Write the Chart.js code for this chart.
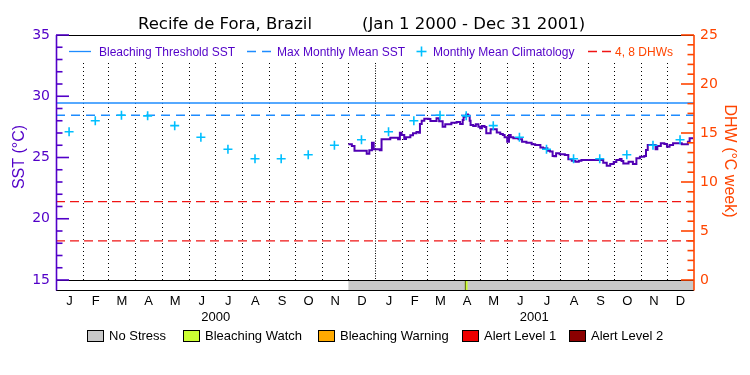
<!DOCTYPE html>
<html><head><meta charset="utf-8">
<script src="https://cdn.jsdelivr.net/npm/chart.js@4/dist/chart.umd.min.js"></script>
<style>html,body{margin:0;padding:0;background:#fff}#wrap{width:750px;height:375px;position:relative}</style>
</head><body><div id="wrap"><canvas id="c" width="750" height="375"></canvas></div>
<script>
const titleLeft = "Recife de Fora, Brazil";
const titleRight = "(Jan 1 2000 - Dec 31 2001)";
const monthLetters = ["J","F","M","A","M","J","J","A","S","O","N","D"];
const years = ["2000", "2001"];
const yearMidDays = [183, 548];
const monthStartDays = [0,31,60,91,121,152,182,213,244,274,305,335,366,397,425,456,486,517,547,578,609,639,670,700,731];
const climDays = [15,45,75,105,136,166,197,228,258,289,319,350,381,410,440,470,501,531,562,593,623,654,684,715];
const climMonthly = [27.1,28.0,28.45,28.4,27.6,26.65,25.67,24.9,24.9,25.23,26.0,26.45];
const bleachingThreshold = 29.45;
const maxMonthlyMean = 28.45;
const dhwLevels = [4, 8];
const sstDays = [335,339,342,350,356,359,362,364,371,373,381,383,390,392,394,396,399,401,406,409,413,416,417,419,422,427,429,433,436,439,443,446,453,459,463,466,467,470,472,474,475,478,481,484,486,488,491,493,496,498,503,505,509,512,514,517,519,521,524,530,534,539,545,549,552,555,558,563,566,569,571,573,577,583,587,591,595,599,602,623,627,631,635,639,642,646,648,650,656,661,665,669,674,676,678,684,687,689,693,697,700,703,707,717,723,724,726,730];
const sstValues = [26.08,25.94,25.56,25.56,25.31,25.6,26.21,25.67,25.6,26.49,26.49,26.62,26.62,26.49,27.03,26.84,26.51,26.65,26.81,26.97,27.08,27.03,27.73,28.0,28.17,28.15,27.98,27.98,28.2,27.95,27.51,27.71,27.84,27.9,27.73,28.06,28.33,28.52,28.41,28.0,27.65,27.57,27.71,27.51,27.38,27.57,27.5,26.97,26.97,27.3,27.3,27.05,26.92,26.84,26.65,26.29,26.84,26.65,26.57,26.49,26.29,26.21,26.08,26.02,26.02,25.82,25.76,25.56,25.48,25.12,25.1,25.34,25.26,25.2,24.85,24.74,24.66,24.74,24.8,24.8,24.57,24.33,24.47,24.63,24.8,24.88,24.71,24.52,24.66,24.47,24.93,25.07,25.12,25.61,26.02,26.02,25.67,25.94,26.16,26.1,25.88,26.02,26.16,26.08,26.08,26.29,26.57,26.57];
const stressNames = ["No Stress","Bleaching Watch","Bleaching Warning","Alert Level 1","Alert Level 2"];
const stressColors = ["#c8c8c8","#ccff33","#ffaa00","#ee0000","#8b0000"];
const stressStart = [335, 469];
const stressEnd = [731, 471.5];
const stressLevel = [0, 1];

const PURPLE = '#5200c8', ORANGE = '#ff4500', BLUE = '#1e8cff', CYAN = '#00bfff', RED = '#f01414', SSTC = '#5000b4';
const LIB = '"Liberation Sans", Arial, sans-serif';
const DJV = '"DejaVu Sans", sans-serif';

const monthMid = [];
for (let i = 0; i < monthStartDays.length - 1; i++) monthMid.push((monthStartDays[i] + monthStartDays[i+1]) / 2);

function hline(ctx, x0, x1, y, col, w, dash) {
  ctx.save(); ctx.strokeStyle = col; ctx.lineWidth = w; ctx.setLineDash(dash || []);
  ctx.beginPath(); ctx.moveTo(x0, y); ctx.lineTo(x1, y); ctx.stroke(); ctx.restore();
}
function vline(ctx, x, y0, y1, col, w, dash) {
  ctx.save(); ctx.strokeStyle = col; ctx.lineWidth = w; ctx.setLineDash(dash || []);
  ctx.beginPath(); ctx.moveTo(x, y0); ctx.lineTo(x, y1); ctx.stroke(); ctx.restore();
}
function text(ctx, s, x, y, font, col, align, rot) {
  ctx.save(); ctx.font = font; ctx.fillStyle = col; ctx.textAlign = align || 'left'; ctx.textBaseline = 'alphabetic';
  ctx.translate(x, y); if (rot) ctx.rotate(rot); ctx.fillText(s, 0, 0); ctx.restore();
}

const decor = {
  id: 'decor',
  beforeDatasetsDraw(chart) {
    const {ctx, chartArea: a, scales: {x}} = chart;
    monthStartDays.forEach(d => {
      if (d <= 0 || d >= 731) return;
      const px = Math.round(x.getPixelForValue(d)) + 0.5;
      vline(ctx, px, a.top + 28, a.bottom, '#000', 1, d === 366 ? [1, 1.5] : [1, 3]);
    });
  },
  afterDatasetsDraw(chart) {
    const {ctx, chartArea: a, scales: {x, y, y2}} = chart;
    const barTop = a.bottom, barBot = a.bottom + 10.5;
    // stress bar
    stressStart.forEach((s, i) => {
      const x0 = x.getPixelForValue(s), x1 = x.getPixelForValue(stressEnd[i]);
      ctx.fillStyle = stressColors[stressLevel[i]];
      ctx.fillRect(x0, barTop, x1 - x0, barBot - barTop);
      if (stressLevel[i] > 0) vline(ctx, x0, barTop, barBot, '#556600', 1);
    });
    hline(ctx, a.left, a.right, a.top + 0.5, '#000', 1);
    hline(ctx, a.left, a.right, barTop + 0.5, '#000', 1.2);
    hline(ctx, a.left, a.right, barBot, '#000', 1.2);
    // axes
    vline(ctx, a.left + 0.5, a.top, barBot, PURPLE, 1.6);
    vline(ctx, a.right, a.top, barBot, ORANGE, 1.6);
    for (let v = 15; v <= 35; v++) {
      const py = y.getPixelForValue(v);
      hline(ctx, a.left, a.left + (v % 5 === 0 ? 13 : 6.5), py, PURPLE, 1.6);
    }
    for (let v = 0; v <= 25; v++) {
      const py = y2.getPixelForValue(v);
      hline(ctx, a.right - (v % 5 === 0 ? 13 : 6.5), a.right, py, ORANGE, 1.6);
    }
    // title
    text(ctx, titleLeft, 138, 28.5, '16.5px ' + DJV, '#000');
    text(ctx, titleRight, 362, 28.5, '16.5px ' + DJV, '#000');
    // axis titles
    text(ctx, 'SST (\u00b0C)', 24, 157, '16px ' + LIB, PURPLE, 'center', -Math.PI / 2);
    text(ctx, 'DHW (\u00b0C week)', 725, 161, '16px ' + LIB, ORANGE, 'center', Math.PI / 2);
    // top legend
    const ly = 51.5, lf = '12px ' + LIB;
    hline(ctx, 69, 91, ly, BLUE, 1.3);
    text(ctx, 'Bleaching Threshold SST', 99, ly + 4.3, lf, PURPLE);
    hline(ctx, 247, 271, ly, BLUE, 1.3, [9, 6]);
    text(ctx, 'Max Monthly Mean SST', 277, ly + 4.3, lf, PURPLE);
    hline(ctx, 416.5, 426.5, ly, CYAN, 1.6); vline(ctx, 421.5, ly - 5, ly + 5, CYAN, 1.6);
    text(ctx, 'Monthly Mean Climatology', 433, ly + 4.3, lf, PURPLE);
    hline(ctx, 588, 611, ly, RED, 1.3, [9, 5]);
    text(ctx, '4, 8 DHWs', 615, ly + 4.3, lf, ORANGE);
    // years
    yearMidDays.forEach((d, i) => text(ctx, years[i], x.getPixelForValue(d), 321, '13px ' + LIB, '#000', 'center'));
    // bottom legend
    const bx = [87, 183, 318, 462, 569];
    stressNames.forEach((n, i) => {
      ctx.fillStyle = stressColors[i]; ctx.fillRect(bx[i], 330, 16, 11);
      ctx.strokeStyle = '#000'; ctx.lineWidth = 1; ctx.strokeRect(bx[i] + 0.5, 330.5, 16, 11);
      text(ctx, n, bx[i] + 22, 340, '13px ' + LIB, '#000');
    });
  }
};

const pts = (xs, ys) => xs.map((d, i) => ({x: d, y: ys[i]}));
const span = v => [{x: 0, y: v}, {x: 731, y: v}];

new Chart(document.getElementById('c'), {
  type: 'line',
  data: {
    datasets: [
      {label: 'Monthly Mean Climatology', data: pts(climDays, climDays.map((d, i) => climMonthly[i % 12])), showLine: false,
       pointStyle: 'cross', pointRadius: 4.5, pointBorderWidth: 1.6, borderColor: CYAN, yAxisID: 'y', order: 0},
      {label: 'SST', data: pts(sstDays, sstValues), stepped: true, borderColor: SSTC, borderWidth: 2, pointRadius: 0, yAxisID: 'y', order: 1},
      {label: 'Bleaching Threshold SST', data: span(bleachingThreshold), borderColor: BLUE, borderWidth: 1.3, pointRadius: 0, yAxisID: 'y', order: 2},
      {label: 'Max Monthly Mean SST', data: span(maxMonthlyMean), borderColor: BLUE, borderWidth: 1.3, borderDash: [9, 6], pointRadius: 0, yAxisID: 'y', order: 3},
      {label: '4 DHW', data: span(dhwLevels[0]), borderColor: RED, borderWidth: 1.3, borderDash: [9, 5], pointRadius: 0, yAxisID: 'y2', order: 4},
      {label: '8 DHW', data: span(dhwLevels[1]), borderColor: RED, borderWidth: 1.3, borderDash: [9, 5], pointRadius: 0, yAxisID: 'y2', order: 5}
    ]
  },
  options: {
    responsive: false, animation: false, events: [],
    layout: {padding: {top: 35, left: 0, right: 0, bottom: 0}},
    plugins: {legend: {display: false}, title: {display: false}, tooltip: {enabled: false}},
    scales: {
      x: {type: 'linear', min: 0, max: 731, grid: {display: false, drawTicks: false}, border: {display: false},
          afterBuildTicks: s => { s.ticks = monthMid.map(v => ({value: v})); },
          afterFit: s => { s.height = 95; },
          ticks: {autoSkip: false, maxRotation: 0, padding: 14, color: '#000', font: {family: 'Liberation Sans', size: 13},
                  callback: (v, i) => monthLetters[i % 12]}},
      y: {position: 'left', min: 15, max: 35, grid: {display: false, drawTicks: false}, border: {display: false},
          afterFit: s => { s.width = 56; },
          ticks: {stepSize: 5, padding: 6, color: PURPLE, font: {family: 'DejaVu Sans', size: 14}}},
      y2: {position: 'right', min: 0, max: 25, grid: {display: false, drawTicks: false}, border: {display: false},
          afterFit: s => { s.width = 56; },
          ticks: {stepSize: 5, padding: 6, color: ORANGE, font: {family: 'DejaVu Sans', size: 14}}}
    }
  },
  plugins: [decor]
});
</script></body></html>
